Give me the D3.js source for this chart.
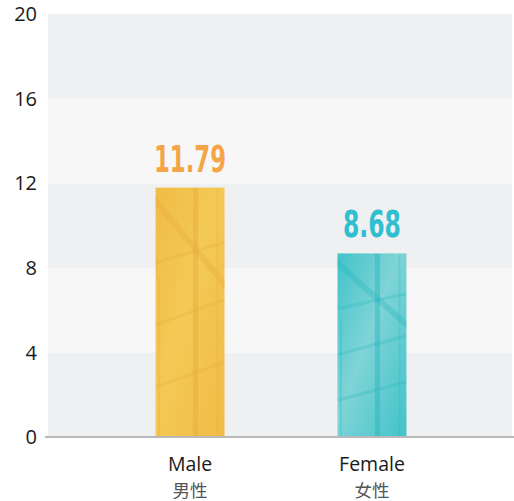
<!DOCTYPE html>
<html>
<head>
<meta charset="utf-8">
<script src="https://cdn.jsdelivr.net/npm/d3@7"></script>
<style>
  body { margin: 0; background: #fff; }
  svg { display: block; }
</style>
</head>
<body>
<div id="chart"></div>
<script>
// Data
const categories = ["Male", "Female"]
const categoriesZh = ["男性", "女性"]
const values = [11.79, 8.68]
const valueLabels = ["11.79", "8.68"]
const yTicks = [0, 4, 8, 12, 16, 20]

const barColors = [
  { light: "#f3c955", mid: "#f1bc45", dark: "#e8a63a", label: "#f4a646" },
  { light: "#7fd4d6", mid: "#41c3c9", dark: "#1fb2bd", label: "#2fbfd0" }
]

// Margin convention
const W = 514, H = 501
const margin = { top: 14, right: 2, bottom: 64, left: 48 }
const width = W - margin.left - margin.right
const height = H - margin.top - margin.bottom

const svg = d3.select("#chart").append("svg")
  .attr("width", W)
  .attr("height", H)

const defs = svg.append("defs")

const g = svg.append("g")
  .attr("transform", "translate(" + margin.left + "," + margin.top + ")")

const y = d3.scaleLinear().domain([0, 20]).range([height, 0])
const x = d3.scaleBand().domain(categories).range([53, 413]).paddingInner(0.621).paddingOuter(0.3)

// Alternating background bands
const bands = d3.pairs(yTicks)
g.selectAll("rect.band")
  .data(bands)
  .join("rect")
  .attr("class", "band")
  .attr("x", 0)
  .attr("width", width)
  .attr("y", d => y(d[1]))
  .attr("height", d => y(d[0]) - y(d[1]))
  .attr("fill", (d, i) => i % 2 === 0 ? "#eff0f2" : "#f7f7f8")

// Y tick labels
g.selectAll("text.ytick")
  .data(yTicks)
  .join("text")
  .attr("class", "ytick")
  .attr("x", -11)
  .attr("y", d => y(d))
  .attr("dy", "0.36em")
  .attr("text-anchor", "end")
  .attr("font-family", "Open Sans, Noto Sans, sans-serif")
  .attr("font-size", 20)
  .attr("fill", "#1a1a1a")
  .text(d => d)

// Bars with a glassy texture
categories.forEach((c, i) => {
  const col = barColors[i]
  const grad = defs.append("linearGradient")
    .attr("id", "grad" + i)
    .attr("x1", 0).attr("y1", 0).attr("x2", 1).attr("y2", 1)
  grad.append("stop").attr("offset", "0%").attr("stop-color", col.mid)
  grad.append("stop").attr("offset", "45%").attr("stop-color", col.light)
  grad.append("stop").attr("offset", "100%").attr("stop-color", col.mid)

  const bx = x(c), bw = x.bandwidth(), by = y(values[i]), bh = y(0) - y(values[i])

  defs.append("clipPath").attr("id", "clip" + i)
    .append("rect").attr("x", bx).attr("y", by).attr("width", bw).attr("height", bh)

  g.append("rect")
    .attr("x", bx).attr("y", by)
    .attr("width", bw).attr("height", bh)
    .attr("fill", "url(#grad" + i + ")")

  // window-frame streaks
  const tex = g.append("g").attr("clip-path", "url(#clip" + i + ")")
    .attr("stroke", col.dark).attr("fill", "none").attr("stroke-linecap", "butt")
  const fx = f => bx + f * bw
  const fy = f => by + f * bh
  tex.append("line").attr("x1", fx(0.58)).attr("x2", fx(0.58)).attr("y1", fy(0)).attr("y2", fy(1))
    .attr("stroke-width", 5).attr("stroke-opacity", 0.4)
  tex.append("line").attr("x1", fx(-0.1)).attr("y1", fy(0.02)).attr("x2", fx(1.1)).attr("y2", fy(0.42))
    .attr("stroke-width", 6).attr("stroke-opacity", 0.3)
  tex.append("line").attr("x1", fx(0)).attr("y1", fy(0.3)).attr("x2", fx(1)).attr("y2", fy(0.22))
    .attr("stroke-width", 3).attr("stroke-opacity", 0.25)
  tex.append("line").attr("x1", fx(0)).attr("y1", fy(0.55)).attr("x2", fx(1)).attr("y2", fy(0.45))
    .attr("stroke-width", 3).attr("stroke-opacity", 0.25)
  tex.append("line").attr("x1", fx(0)).attr("y1", fy(0.8)).attr("x2", fx(1)).attr("y2", fy(0.7))
    .attr("stroke-width", 3).attr("stroke-opacity", 0.25)
  tex.append("line").attr("x1", fx(0.05)).attr("y1", fy(0.35)).attr("x2", fx(0.05)).attr("y2", fy(1))
    .attr("stroke-width", 2).attr("stroke-opacity", 0.25)
  tex.append("line").attr("x1", fx(0.9)).attr("y1", fy(0)).attr("x2", fx(0.9)).attr("y2", fy(1))
    .attr("stroke-width", 2).attr("stroke-opacity", 0.2)
})

// Value labels
g.selectAll("text.val")
  .data(values)
  .join("text")
  .attr("class", "val")
  .attr("x", (d, i) => x(categories[i]) + x.bandwidth() / 2)
  .attr("y", d => y(d) - 16)
  .attr("text-anchor", "middle")
  .attr("font-family", "DejaVu Sans Condensed, DejaVu Sans, sans-serif")
  .attr("font-weight", "bold")
  .attr("font-size", 38)
  .attr("textLength", (d, i) => valueLabels[i].length === 5 ? 72 : 58)
  .attr("lengthAdjust", "spacingAndGlyphs")
  .attr("fill", (d, i) => barColors[i].label)
  .text((d, i) => valueLabels[i])

// Baseline
g.append("line")
  .attr("x1", -3).attr("x2", width + margin.right)
  .attr("y1", y(0)).attr("y2", y(0))
  .attr("stroke", "#b9b9bb").attr("stroke-width", 2)

// Category labels
g.selectAll("text.cat")
  .data(categories)
  .join("text")
  .attr("class", "cat")
  .attr("x", d => x(d) + x.bandwidth() / 2)
  .attr("y", height + 34)
  .attr("text-anchor", "middle")
  .attr("font-family", "Open Sans, Noto Sans, sans-serif")
  .attr("font-size", 19.5)
  .attr("fill", "#1a1a1a")
  .text(d => d)

g.selectAll("text.catzh")
  .data(categoriesZh)
  .join("text")
  .attr("class", "catzh")
  .attr("x", (d, i) => x(categories[i]) + x.bandwidth() / 2)
  .attr("y", height + 60)
  .attr("text-anchor", "middle")
  .attr("font-family", "Noto Sans CJK TC, Noto Sans CJK SC, sans-serif")
  .attr("font-size", 17.5)
  .attr("fill", "#555")
  .text(d => d)
</script>
</body>
</html>
